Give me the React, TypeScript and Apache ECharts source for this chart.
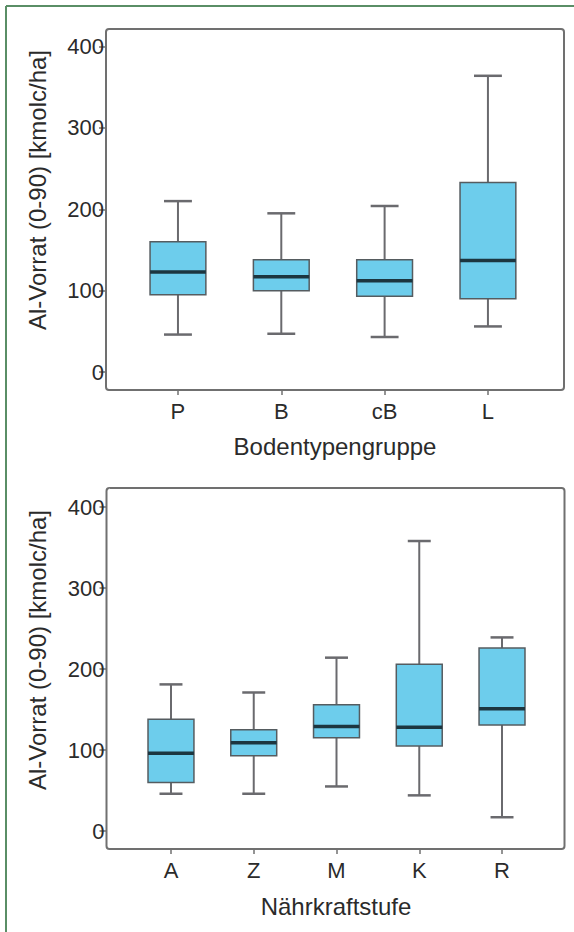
import React, { useEffect, useRef } from "react";
import * as echarts from "echarts";

// Plot 1: Bodentypengruppe
const soilGroups = ["P", "B", "cB", "L"];
const soilLow = [46, 47, 43, 56];
const soilQ1 = [95, 100, 93, 90];
const soilMedian = [123, 117, 112, 137];
const soilQ3 = [160, 138, 138, 233];
const soilHigh = [210, 195, 204, 364];

// Plot 2: Nährkraftstufe
const nutrientLevels = ["A", "Z", "M", "K", "R"];
const nutLow = [46, 46, 55, 44, 17];
const nutQ1 = [60, 93, 115, 105, 131];
const nutMedian = [96, 109, 129, 128, 151];
const nutQ3 = [138, 125, 156, 206, 226];
const nutHigh = [181, 171, 214, 358, 239];

const yMin = 0;
const yMax = 400;
const yStep = 100;

const yTitle = "Al-Vorrat (0-90) [kmolc/ha]";
const xTitle1 = "Bodentypengruppe";
const xTitle2 = "Nährkraftstufe";

const FONT = "'Liberation Sans', Arial, Helvetica, sans-serif";
const TEXT = "#2b2b2b";
const FRAME = "#707070";
const BOX_FILL = "#6dcdec";
const BOX_STROKE = "#555c60";
const MEDIAN = "#1c3640";

function rows(low: number[], q1: number[], med: number[], q3: number[], high: number[]) {
  return low.map((_, i) => [i, low[i], q1[i], med[i], q3[i], high[i]]);
}

function makeRenderItem(boxRatio: number) {
  return (_params: any, api: any) => {
    const idx = api.value(0);
    const low = api.coord([idx, api.value(1)]);
    const q1 = api.coord([idx, api.value(2)]);
    const med = api.coord([idx, api.value(3)]);
    const q3 = api.coord([idx, api.value(4)]);
    const high = api.coord([idx, api.value(5)]);
    const band = api.size([1, 0])[0];
    const w = band * boxRatio;
    const cx = q1[0];
    const half = w / 2;
    const cap = w / 4;
    const wStyle = { stroke: "#6a6a6e", lineWidth: 2, fill: "none" };
    return {
      type: "group",
      children: [
        { type: "line", shape: { x1: cx, y1: q3[1], x2: cx, y2: high[1] }, style: wStyle },
        { type: "line", shape: { x1: cx, y1: q1[1], x2: cx, y2: low[1] }, style: wStyle },
        { type: "line", shape: { x1: cx - cap, y1: high[1], x2: cx + cap, y2: high[1] }, style: { ...wStyle, lineWidth: 2.5 } },
        { type: "line", shape: { x1: cx - cap, y1: low[1], x2: cx + cap, y2: low[1] }, style: { ...wStyle, lineWidth: 2.5 } },
        {
          type: "rect",
          shape: { x: cx - half, y: q3[1], width: w, height: q1[1] - q3[1] },
          style: { fill: BOX_FILL, stroke: BOX_STROKE, lineWidth: 1.5 },
        },
        { type: "line", shape: { x1: cx - half, y1: med[1], x2: cx + half, y2: med[1] }, style: { stroke: MEDIAN, lineWidth: 3.5 } },
      ],
    };
  };
}

export default function App() {
  const ref = useRef<HTMLDivElement>(null);

  useEffect(() => {
    if (!ref.current) return;
    const chart = echarts.init(ref.current, undefined, { renderer: "svg" });

    const yAxisBase = {
      type: "value" as const,
      min: yMin,
      max: yMax,
      interval: yStep,
      axisLine: { show: false },
      axisTick: { show: true, length: 7, lineStyle: { color: FRAME, width: 1.5 } },
      axisLabel: { fontSize: 22, color: TEXT, fontFamily: FONT, margin: 2 },
      splitLine: { show: false },
    };
    const xAxisBase = {
      type: "category" as const,
      offset: 18,
      axisLine: { show: false, onZero: false },
      axisTick: { show: true, alignWithLabel: true, length: 5, lineStyle: { color: FRAME, width: 1.5 } },
      axisLabel: { fontSize: 22, color: TEXT, fontFamily: FONT, margin: 10 },
      splitLine: { show: false },
    };

    const titleStyle = { fontSize: 24, fontFamily: FONT, fill: TEXT, textAlign: "center", textVerticalAlign: "middle" };

    chart.setOption({
      animation: false,
      backgroundColor: "#ffffff",
      grid: [
        { left: 126.3, width: 413.3, top: 46.5, height: 325.5 },
        { left: 129.6, width: 413.8, top: 507, height: 324 },
      ],
      xAxis: [
        { ...xAxisBase, gridIndex: 0, data: soilGroups },
        { ...xAxisBase, gridIndex: 1, data: nutrientLevels },
      ],
      yAxis: [
        { ...yAxisBase, gridIndex: 0, offset: 20.3 },
        { ...yAxisBase, gridIndex: 1, offset: 23.1 },
      ],
      series: [
        {
          type: "custom",
          xAxisIndex: 0,
          yAxisIndex: 0,
          renderItem: makeRenderItem(0.54),
          encode: { x: 0, y: [1, 2, 3, 4, 5] },
          data: rows(soilLow, soilQ1, soilMedian, soilQ3, soilHigh),
        },
        {
          type: "custom",
          xAxisIndex: 1,
          yAxisIndex: 1,
          renderItem: makeRenderItem(0.555),
          encode: { x: 0, y: [1, 2, 3, 4, 5] },
          data: rows(nutLow, nutQ1, nutMedian, nutQ3, nutHigh),
        },
      ],
      graphic: [
        { type: "line", shape: { x1: 6, y1: 6, x2: 574, y2: 6 }, style: { stroke: "#5a8e66", lineWidth: 2 } },
        { type: "line", shape: { x1: 6, y1: 6, x2: 6, y2: 932 }, style: { stroke: "#5a8e66", lineWidth: 2 } },
        { type: "rect", shape: { x: 106, y: 29, width: 458, height: 361, r: 3 }, style: { fill: "none", stroke: FRAME, lineWidth: 2 }, z: 10 },
        { type: "rect", shape: { x: 106.5, y: 488, width: 458, height: 361, r: 3 }, style: { fill: "none", stroke: FRAME, lineWidth: 2 }, z: 10 },
        { type: "text", x: 37, y: 190, rotation: Math.PI / 2, style: { ...titleStyle, text: yTitle } },
        { type: "text", x: 37, y: 650, rotation: Math.PI / 2, style: { ...titleStyle, text: yTitle } },
        { type: "text", x: 335, y: 446, style: { ...titleStyle, text: xTitle1 } },
        { type: "text", x: 336, y: 906, style: { ...titleStyle, text: xTitle2 } },
      ],
    });

    return () => chart.dispose();
  }, []);

  return (
    <div
      ref={ref}
      style={{ position: "absolute", left: 0, top: 0, width: 574, height: 932, background: "#fff" }}
    />
  );
}
